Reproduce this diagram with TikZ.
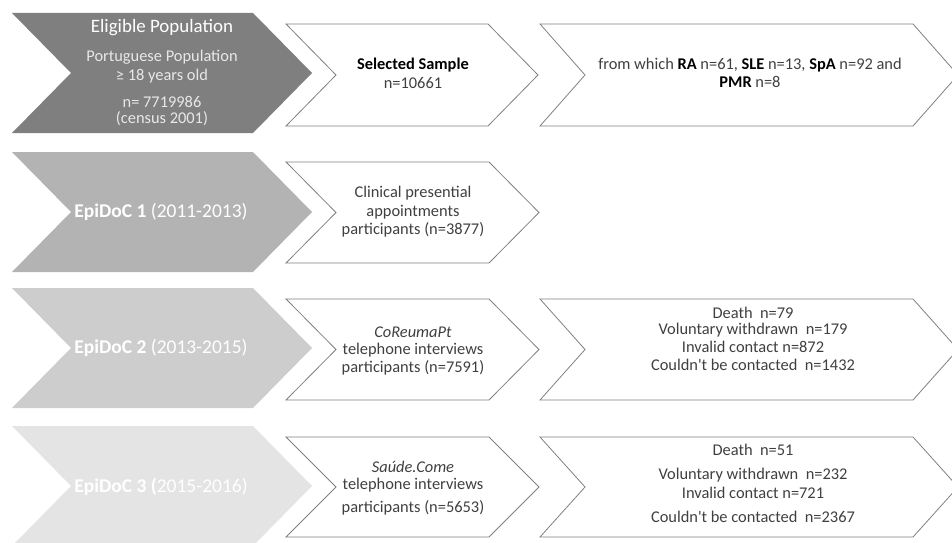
\documentclass[tikz,border=0pt]{standalone}
\usepackage{fontspec}
\setmainfont{Carlito}
\definecolor{rowA}{HTML}{7F7F7F}
\definecolor{rowB}{HTML}{B3B3B3}
\definecolor{rowC}{HTML}{CDCDCD}
\definecolor{rowD}{HTML}{E4E4E4}
\definecolor{txtgray}{HTML}{404040}
\definecolor{lightt}{HTML}{E8E8E8}
\definecolor{edge}{HTML}{808080}
\newcommand\mychev[6]{%
  \path[#1] (#2,#5) -- (#3,#5) -- ({#3+#4},{(#5+#6)/2}) -- (#3,#6) -- (#2,#6) -- ({#2+#4},{(#5+#6)/2}) -- cycle;}
\begin{document}
\begin{tikzpicture}[x=0.75pt,y=-0.75pt,
  outline/.style={draw=edge, line width=0.6pt, fill=white},
  txt/.style={font=\fontsize{12.3}{15}\selectfont, text=txtgray, inner sep=0pt, align=center},
  big/.style={font=\fontsize{14.2}{17}\selectfont, text=white, inner sep=0pt, align=center},
  epi/.style={font=\fontsize{14.6}{18}\selectfont, text=white, inner sep=0pt, align=center}
]
\useasboundingbox (0,0) rectangle (952,542);
\clip (0,0) rectangle (952,542);
% row 1
\mychev{fill=rowA}{12}{253}{59}{13}{133}
\mychev{outline}{286}{488}{50}{24}{126}
\mychev{outline}{540}{913}{45}{24}{126}
% row 2
\mychev{fill=rowB}{12}{253}{59}{152}{272}
\mychev{outline}{286}{489}{50}{162}{263}
% row 3
\mychev{fill=rowC}{12}{253}{59}{288}{408}
\mychev{outline}{286}{489}{50}{299}{400}
\mychev{outline}{540}{913}{45}{299}{400}
% row 4
\mychev{fill=rowD}{12}{253}{59}{426}{546}
\mychev{outline}{286}{489}{50}{437}{537}
\mychev{outline}{540}{913}{45}{437}{537}

% row 1 texts
\node[big] (elig) at (162,28) {Eligible Population};
\node[txt, text=lightt] (port) at (162,57) {Portuguese Population};
\node[txt, text=lightt] (age) at (162,76) {≥ 18 years old};
\node[txt, text=lightt] (npop) at (162,102) {n= 7719986};
\node[txt, text=lightt] (cens) at (162,119) {(census 2001)};
\node[txt, text=black, font=\fontsize{12.3}{15}\bfseries] (sel) at (413,65) {Selected Sample};
\node[txt] (nsel) at (413,83) {n=10661};
\node[txt] (from1) at (750,65) {from which \textcolor{black}{\textbf{RA}} n=61, \textcolor{black}{\textbf{SLE}} n=13, \textcolor{black}{\textbf{SpA}} n=92 and};
\node[txt] (from2) at (750,82) {\textcolor{black}{\textbf{PMR}} n=8};

% row 2 texts
\node[epi] (epi1) at (161,212) {\textbf{EpiDoC 1} (2011-2013)};
\node[txt] (clin1) at (413,193) {Clinical presential};
\node[txt] (clin2) at (413,212) {appointments};
\node[txt] (clin3) at (413,230) {participants (n=3877)};

% row 3 texts
\node[epi] (epi2) at (161,348) {\textbf{EpiDoC 2} (2013-2015)};
\node[txt] (cor1) at (413,332) {\textit{CoReumaPt}};
\node[txt] (cor2) at (413,350) {telephone interviews};
\node[txt] (cor3) at (413,368) {participants (n=7591)};
\node[txt] (d2a) at (753,313) {Death\ \ n=79};
\node[txt] (d2b) at (753,330) {Voluntary withdrawn\ \ n=179};
\node[txt] (d2c) at (753,347) {Invalid contact n=872};
\node[txt] (d2d) at (753,365) {Couldn\textquotesingle t be contacted\ \ n=1432};

% row 4 texts
\node[epi] (epi3) at (161,487) {\textbf{EpiDoC 3 (}2015-2016)};
\node[txt] (sau1) at (413,467) {\textit{Saúde.Come}};
\node[txt] (sau2) at (413,485) {telephone interviews};
\node[txt] (sau3) at (413,508) {participants (n=5653)};
\node[txt] (d3a) at (753,450) {Death\ \ n=51};
\node[txt] (d3b) at (753,475) {Voluntary withdrawn\ \ n=232};
\node[txt] (d3c) at (753,493) {Invalid contact n=721};
\node[txt] (d3d) at (753,517) {Couldn\textquotesingle t be contacted\ \ n=2367};
\end{tikzpicture}
\end{document}
